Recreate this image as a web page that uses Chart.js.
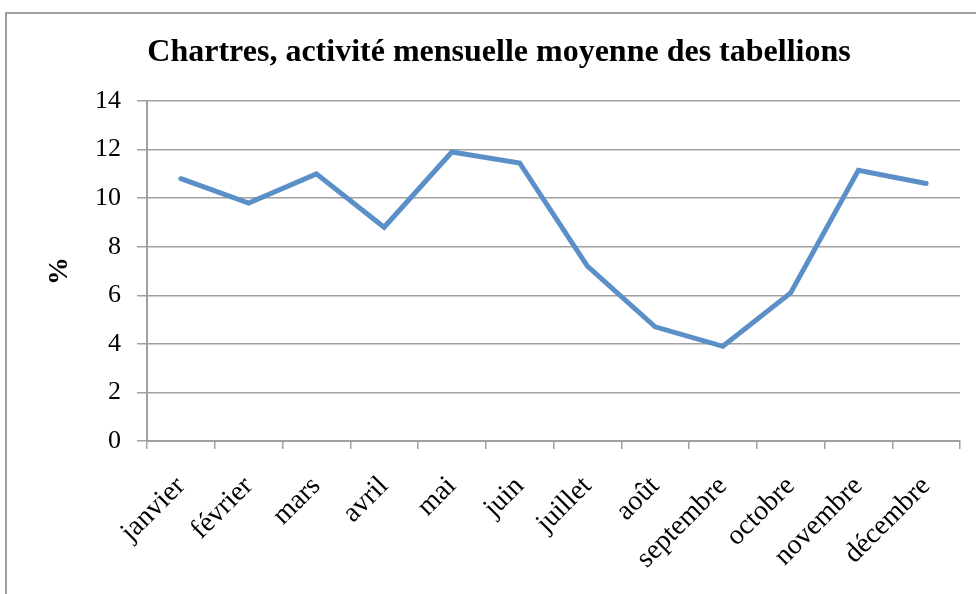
<!DOCTYPE html>
<html lang="fr">
<head>
<meta charset="utf-8">
<title>Chartres, activité mensuelle moyenne des tabellions</title>
<script src="https://cdn.jsdelivr.net/npm/chart.js@4/dist/chart.umd.min.js"></script>
<style>
  html, body { margin: 0; padding: 0; background: #fff; overflow: hidden; }
  #frame {
    position: absolute; left: 5px; top: 12px;
    width: 1000px; height: 700px;
    border: 2px solid #a0a0a0;
  }
  #chart { position: absolute; left: 0; top: 0; }
</style>
</head>
<body>
<div id="frame"></div>
<canvas id="chart" width="976" height="594"></canvas>
<script>
// mois et part mensuelle (%) des actes
const mois = ['janvier', 'février', 'mars', 'avril', 'mai', 'juin',
  'juillet', 'août', 'septembre', 'octobre', 'novembre', 'décembre'];
const activite = [10.8, 9.8, 11.0, 8.8, 11.9, 11.45, 7.2, 4.7, 3.9, 6.1, 11.15, 10.6];
const titre = 'Chartres, activité mensuelle moyenne des tabellions';
const titreAxe = '%';

const gris = '#a0a0a0';
const serif = '"Liberation Serif", "Times New Roman", serif';

new Chart(document.getElementById('chart'), {
  type: 'line',
  data: {
    labels: mois,
    datasets: [{
      data: activite,
      borderColor: '#5b8fc8',
      borderWidth: 5,
      borderCapStyle: 'round',
      borderJoinStyle: 'miter',
      pointRadius: 0,
      tension: 0,
      fill: false
    }]
  },
  options: {
    responsive: false,
    animation: false,
    devicePixelRatio: 1,
    layout: { padding: { left: 38, right: 16, top: 0, bottom: 0 } },
    plugins: {
      legend: { display: false },
      tooltip: { enabled: false },
      title: {
        display: true,
        text: titre,
        color: '#000',
        font: { family: serif, size: 32, weight: 'bold', lineHeight: 1.2 },
        padding: { top: 34, bottom: 28.6 }
      }
    },
    scales: {
      x: {
        offset: true,
        grid: {
          offset: true,
          drawOnChartArea: false,
          drawTicks: true,
          tickLength: 8,
          color: gris,
          lineWidth: 1.5
        },
        border: { color: gris, width: 2 },
        ticks: {
          color: '#000',
          font: { family: serif, size: 28 },
          maxRotation: 45,
          minRotation: 45,
          padding: 21,
          autoSkip: false
        },
        afterFit: (s) => { s.height = 153; }
      },
      y: {
        min: 0,
        max: 14,
        ticks: {
          stepSize: 2,
          color: '#000',
          font: { family: serif, size: 26 },
          padding: 16
        },
        grid: {
          color: gris,
          lineWidth: 1.5,
          tickLength: 10
        },
        border: { color: gris, width: 2 },
        title: {
          display: true,
          text: titreAxe,
          color: '#000',
          font: { family: serif, size: 28, weight: 'bold', lineHeight: 1.2 },
          padding: { top: 5, bottom: 0 }
        },
        afterFit: (s) => { s.width = 109; }
      }
    }
  }
});
</script>
</body>
</html>
